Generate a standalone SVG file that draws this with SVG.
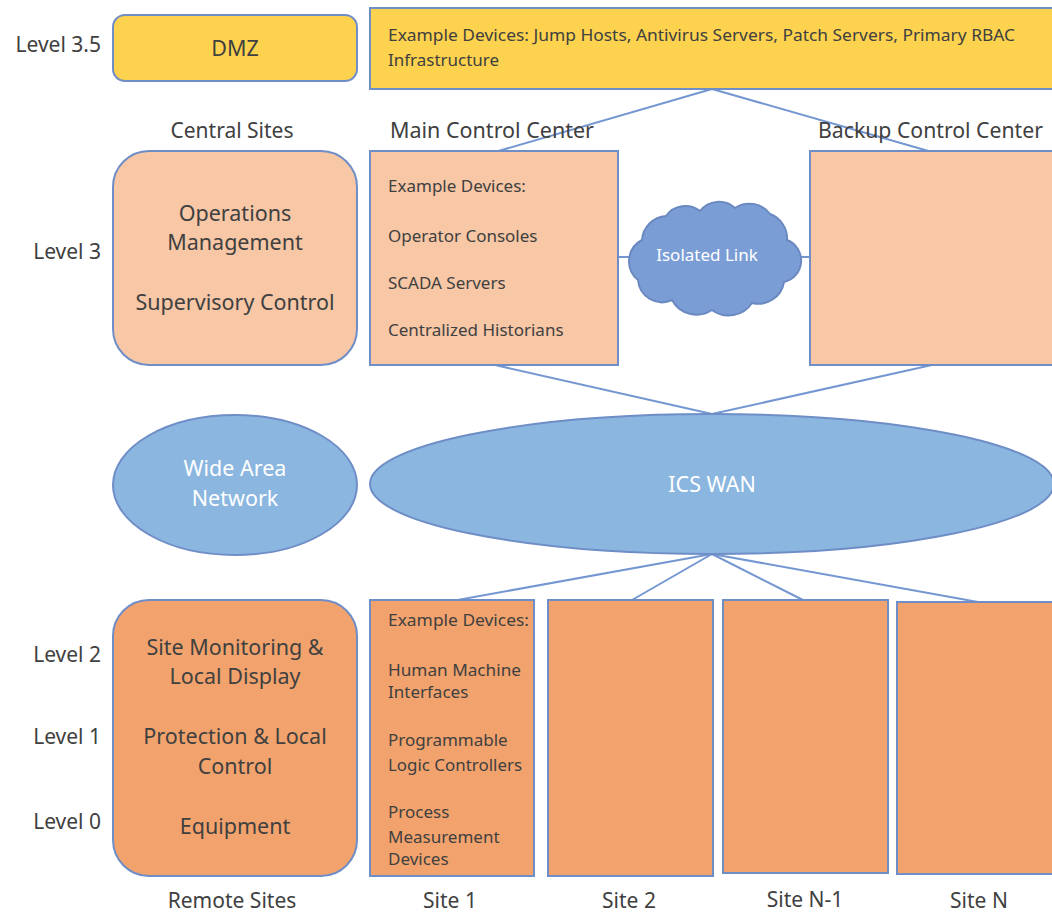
<svg xmlns="http://www.w3.org/2000/svg" width="1052" height="913" viewBox="0 0 1052 913">
<style>
text{font-family:"Noto Sans","Open Sans","Liberation Sans",sans-serif;fill:#404040}
.lbl{font-size:21px}
.big{font-size:21.5px;text-anchor:middle}
.sm{font-size:17px}
.w{fill:#ffffff}
.st{stroke:#6F8DC6;stroke-width:2}
.yel{fill:#FDD24E}
.pch{fill:#F7C7A6}
.org{fill:#F2A36D}
.blu{fill:#8AB6E0}
.con{stroke:#7497D2;stroke-width:2;fill:none}
</style>
<rect width="1052" height="913" fill="#ffffff"/>
<g id="connectors">
<line class="con" x1="712" y1="89" x2="495" y2="152"/>
<line class="con" x1="712" y1="89" x2="932" y2="152"/>
<line class="con" x1="495" y1="365" x2="712" y2="414"/>
<line class="con" x1="932" y1="365" x2="712" y2="414"/>
<line class="con" x1="618" y1="257" x2="634" y2="257"/>
<line class="con" x1="792" y1="257" x2="810" y2="257"/>
<line class="con" x1="712" y1="554" x2="452" y2="601"/>
<line class="con" x1="712" y1="554" x2="632" y2="600"/>
<line class="con" x1="712" y1="554" x2="803" y2="600"/>
<line class="con" x1="712" y1="554" x2="978" y2="602"/>
</g>
<g id="labels">
<text class="lbl" x="101" y="52" text-anchor="end">Level 3.5</text>
<text class="lbl" x="101" y="259" text-anchor="end">Level 3</text>
<text class="lbl" x="101" y="662" text-anchor="end">Level 2</text>
<text class="lbl" x="101" y="744" text-anchor="end">Level 1</text>
<text class="lbl" x="101" y="829" text-anchor="end">Level 0</text>
<text class="lbl" x="232" y="138" text-anchor="middle">Central Sites</text>
<text class="lbl" x="390" y="138" textLength="204" lengthAdjust="spacingAndGlyphs">Main Control Center</text>
<text class="lbl" x="818" y="138" textLength="225" lengthAdjust="spacingAndGlyphs">Backup Control Center</text>
<text class="lbl" x="232" y="908" text-anchor="middle">Remote Sites</text>
<text class="lbl" x="450" y="908" text-anchor="middle">Site 1</text>
<text class="lbl" x="629" y="908" text-anchor="middle">Site 2</text>
<text class="lbl" x="805" y="907" text-anchor="middle">Site N-1</text>
<text class="lbl" x="979" y="908" text-anchor="middle">Site N</text>
</g>
<g id="dmz">
<rect class="yel st" x="113" y="15" width="244" height="66" rx="12"/>
<text class="big" x="235" y="56">DMZ</text>
</g>
<g id="dmz-devices">
<rect class="yel st" x="370" y="8" width="690" height="81"/>
<text class="sm" x="388" y="41" textLength="627" lengthAdjust="spacingAndGlyphs">Example Devices: Jump Hosts, Antivirus Servers, Patch Servers, Primary RBAC</text>
<text class="sm" x="388" y="66" textLength="111" lengthAdjust="spacingAndGlyphs">Infrastructure</text>
</g>
<g id="operations">
<rect class="pch st" x="113" y="151" width="244" height="214" rx="36"/>
<text class="big" x="235" y="221">Operations</text>
<text class="big" x="235" y="250">Management</text>
<text class="big" x="235" y="310">Supervisory Control</text>
</g>
<g id="main-control">
<rect class="pch st" x="370" y="151" width="248" height="214"/>
<text class="sm" x="388" y="192">Example Devices:</text>
<text class="sm" x="388" y="242">Operator Consoles</text>
<text class="sm" x="388" y="289">SCADA Servers</text>
<text class="sm" x="388" y="336">Centralized Historians</text>
</g>
<g id="isolated-link">
<path fill="#7B9DD5" stroke="#6A89C0" stroke-width="2" d="M642,240 A26,26 0 0 1 666,216 A24,24 0 0 1 700,211 A24,24 0 0 1 735,208 A26,26 0 0 1 770,214 A26,26 0 0 1 787,240 A22,22 0 0 1 784,282 A26,26 0 0 1 752,303 A28,28 0 0 1 712,310 A28,28 0 0 1 672,300 A24,24 0 0 1 638,280 A24,24 0 0 1 642,240 Z"/>
<text class="w" x="707" y="261" font-size="17" text-anchor="middle">Isolated Link</text>
</g>
<g id="backup-control">
<rect class="pch st" x="810" y="151" width="250" height="214"/>
</g>
<g id="wan-label">
<ellipse class="blu st" cx="235" cy="485" rx="122" ry="70"/>
<text class="big w" x="235" y="476">Wide Area</text>
<text class="big w" x="235" y="506">Network</text>
</g>
<g id="ics-wan">
<ellipse class="blu st" cx="712" cy="484" rx="342" ry="70"/>
<text class="big w" x="712" y="492">ICS WAN</text>
</g>
<g id="remote">
<rect class="org st" x="113" y="600" width="244" height="276" rx="36"/>
<text class="big" x="235" y="655">Site Monitoring &amp;</text>
<text class="big" x="235" y="684">Local Display</text>
<text class="big" x="235" y="744">Protection  &amp; Local</text>
<text class="big" x="235" y="774">Control</text>
<text class="big" x="235" y="834">Equipment</text>
</g>
<g id="site1">
<rect class="org st" x="370" y="600" width="164" height="276"/>
<text class="sm" x="388" y="626" textLength="141" lengthAdjust="spacingAndGlyphs">Example Devices:</text>
<text class="sm" x="388" y="676" textLength="133" lengthAdjust="spacingAndGlyphs">Human Machine</text>
<text class="sm" x="388" y="698">Interfaces</text>
<text class="sm" x="388" y="746">Programmable</text>
<text class="sm" x="388" y="771" textLength="134" lengthAdjust="spacingAndGlyphs">Logic Controllers</text>
<text class="sm" x="388" y="818">Process</text>
<text class="sm" x="388" y="843">Measurement</text>
<text class="sm" x="388" y="865">Devices</text>
</g>
<g id="site2">
<rect class="org st" x="548" y="600" width="165" height="276"/>
</g>
<g id="siteN-1">
<rect class="org st" x="723" y="600" width="165" height="273"/>
</g>
<g id="siteN">
<rect class="org st" x="897" y="602" width="163" height="272"/>
</g>
</svg>
